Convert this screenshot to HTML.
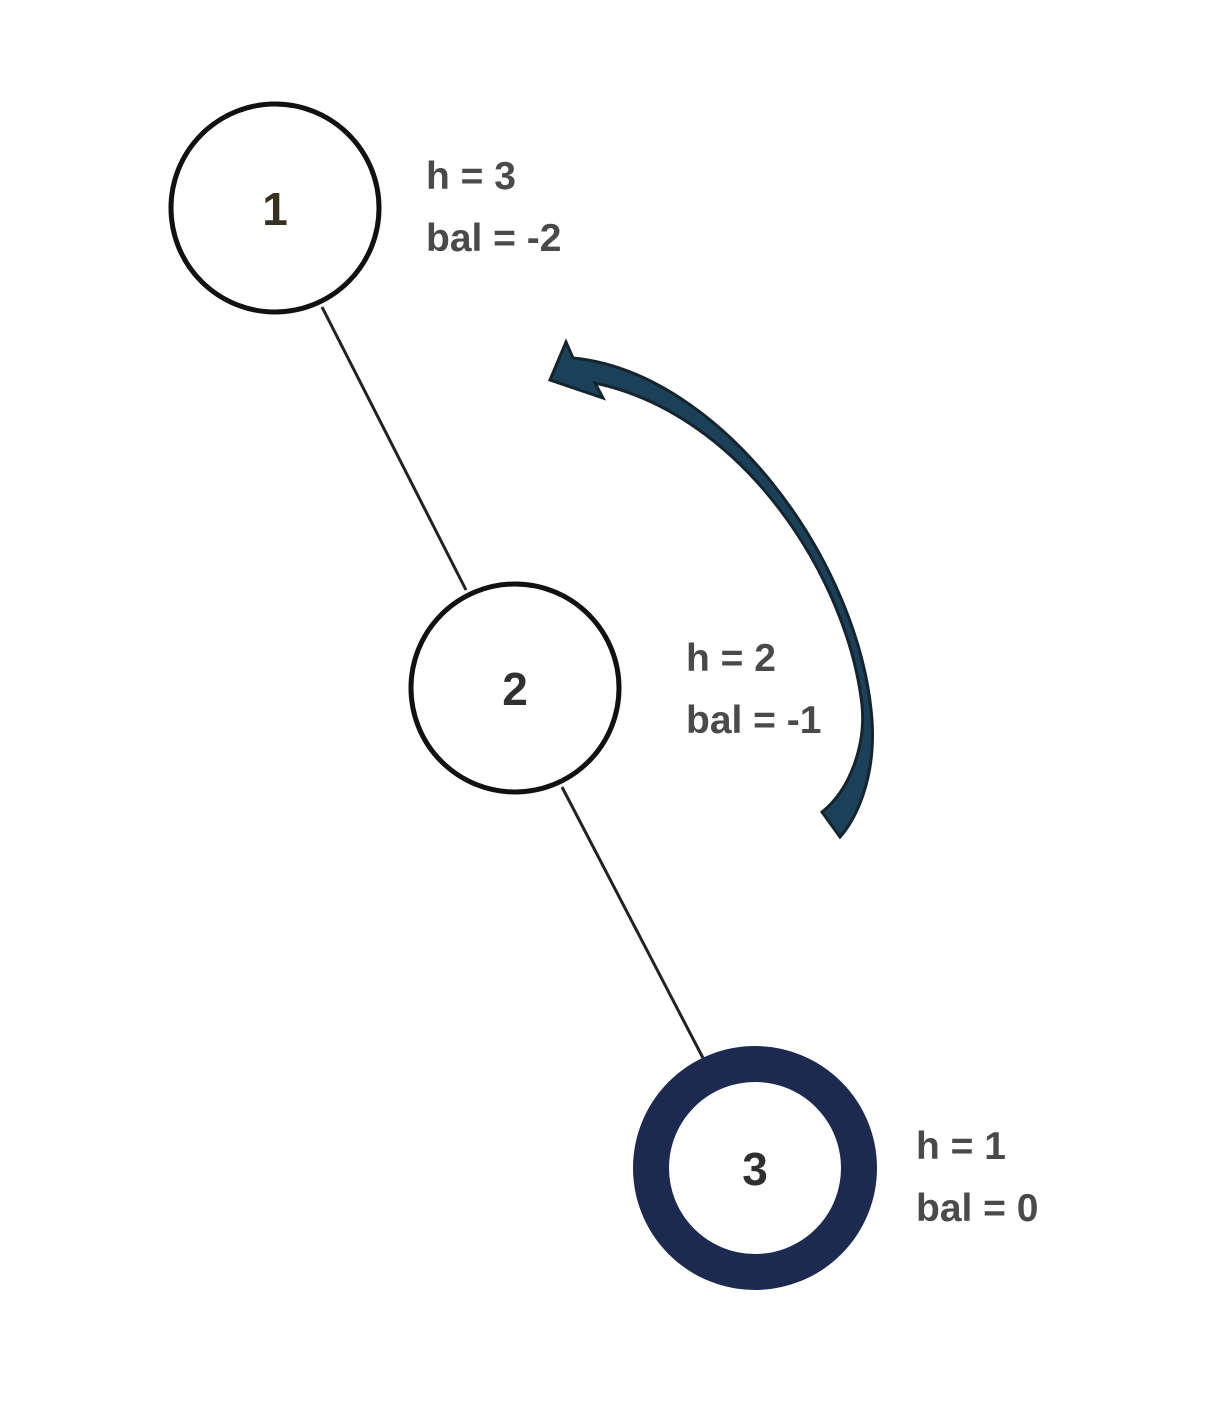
<!DOCTYPE html>
<html><head><style>
html,body{margin:0;padding:0;background:#fff;}
svg{display:block;}
text{font-family:"Liberation Sans",sans-serif;}
</style></head><body>
<svg width="1214" height="1420" viewBox="0 0 1214 1420" xmlns="http://www.w3.org/2000/svg">
<line x1="322" y1="307" x2="466" y2="590" stroke="#222" stroke-width="3"/>
<line x1="562" y1="787" x2="703" y2="1058" stroke="#222" stroke-width="3"/>
<circle cx="275" cy="208" r="104" fill="#fff" stroke="#111" stroke-width="5"/>
<circle cx="515" cy="688" r="104" fill="#fff" stroke="#111" stroke-width="5"/>
<circle cx="755" cy="1168" r="104" fill="#fff" stroke="#1b2a4e" stroke-width="36"/>
<text x="275" y="225" font-size="46" font-weight="bold" text-anchor="middle" fill="#3a3020">1</text>
<text x="515" y="705" font-size="46" font-weight="bold" text-anchor="middle" fill="#303030">2</text>
<text x="755" y="1185" font-size="46" font-weight="bold" text-anchor="middle" fill="#303030">3</text>
<g font-size="39" fill="#4a4a4a" font-weight="bold">
<text x="426" y="189">h = 3</text>
<text x="426" y="251">bal = -2</text>
<text x="686" y="671">h = 2</text>
<text x="686" y="733">bal = -1</text>
<text x="916" y="1159">h = 1</text>
<text x="916" y="1221">bal = 0</text>
</g>
<path d="M 573 358 C 720 372, 860 560, 872 720 C 876 780, 855 820, 840 837 L 822 812 C 850 790, 866 745, 862 705 C 848 580, 745 415, 595 383 L 603 398 L 550 380 L 566 342 Z" fill="#1a4159" stroke="#16242e" stroke-width="3" stroke-linejoin="miter"/>
</svg>
</body></html>
